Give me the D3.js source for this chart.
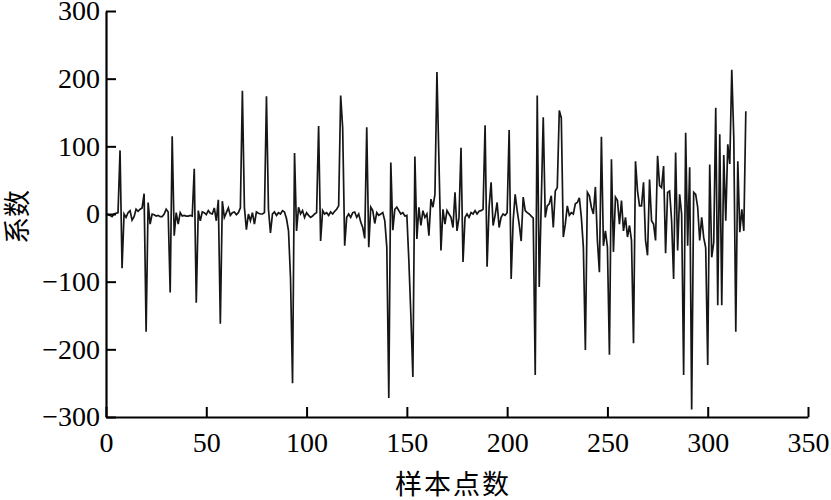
<!DOCTYPE html>
<html>
<head>
<meta charset="utf-8">
<script src="https://cdn.jsdelivr.net/npm/d3@7"></script>
<style>
  body { margin: 0; background: #fff; }
  svg { display: block; }
</style>
</head>
<body>
<svg></svg>
<script>
// coefficient value at each sample point (index = sample number)
var coef = [
  0, -1, -2, -4, 0, 1, 2, 94, -80, 0, -5, 2, 5, -9, -4, 7, 4, 7, 9, 30,
  -174, 17, -15, 0, -1, -3, -2, -4, -4, 0, 7, 3, -116, 115, -32, 2, -15, 2, -3, -2,
  -3, -3, -2, -3, 67, -131, 5, -10, 3, 2, -1, 5, 1, 0, 9, -10, 21, -162, 19, -5,
  2, 9, -2, 2, 3, -1, 2, 9, 182, 10, -23, 0, -10, 2, -15, 3, 1, 0, 0, 2,
  174, 7, -28, 0, 3, -2, 2, 0, 5, 3, -7, -25, -95, -250, 90, -25, 10, 0, 5, -5,
  2, -2, -5, -3, 0, 2, 130, -40, 5, 0, 2, -2, 3, 0, 4, 7, 12, 175, 127, -47,
  -5, 0, -5, 2, 3, -5, 0, -12, -20, -36, 128, -49, 10, 5, -14, 2, -2, 0, 2, -10,
  -49, -272, 76, -24, 7, 10, 5, 0, 2, -3, -2, -69, -150, -241, 85, -37, 10, -17, 5, -5,
  0, -32, 22, 10, 29, 210, 78, -54, 7, -15, 5, 0, -5, -20, 32, -25, -5, 98, -71, -5,
  0, -5, 2, 0, 5, 0, 4, 5, 7, 131, -78, 10, 47, -17, -2, 17, -20, -5, 0, -2,
  2, 124, -96, -10, 29, 5, -15, -40, 25, 5, 2, 0, -3, -6, -238, 175, -108, 15, 143, -5,
  12, 15, 27, -20, 34, 39, 153, 142, -34, -15, 12, -2, 2, 0, 15, 17, 24, -5, -49, -201,
  32, 27, 10, 0, 40, -39, -86, 114, -47, -25, -49, -208, 81, -56, 25, 20, -15, 20, -25, -5,
  -34, -17, -39, -191, 78, 34, 12, 12, 47, -39, -61, 51, -10, -15, -39, 86, 42, 39, 71, -58,
  32, 34, -10, -96, 91, -54, 29, 0, -238, 120, -47, 69, -289, 32, 29, 10, -39, -5, -35, -50,
  -223, 73, -64, -42, 157, -135, 118, -135, 87, -10, 103, 74, 213, 113, -174, 78, -27, 7, -25, 152
];
var xTicks = [0, 50, 100, 150, 200, 250, 300, 350];
var yTicks = [-300, -200, -100, 0, 100, 200, 300];
var xTitle = '样本点数';
var yTitle = '系数';

var width = 831, height = 500;
var plot = {left: 106, right: 808, top: 11, bottom: 417};

var svg = d3.select('svg')
  .attr('width', width)
  .attr('height', height);

var x = d3.scaleLinear().domain([0, 350]).range([plot.left, plot.right]);
var y = d3.scaleLinear().domain([-300, 300]).range([plot.bottom, plot.top]);

var serif = '"Liberation Serif", "Times New Roman", serif';

// data line
var line = d3.line()
  .x(function (d, i) { return x(i); })
  .y(function (d) { return y(d); });

svg.append('path')
  .datum(coef)
  .attr('d', line)
  .attr('fill', 'none')
  .attr('stroke', '#161616')
  .attr('stroke-width', 1.7);

// axes, ticks point inward
var xAxis = svg.append('g')
  .attr('transform', 'translate(0,' + plot.bottom + ')')
  .call(d3.axisBottom(x).tickValues(xTicks).tickSizeInner(-10).tickSizeOuter(0).tickPadding(15));

var yAxis = svg.append('g')
  .attr('transform', 'translate(' + plot.left + ',0)')
  .call(d3.axisLeft(y).tickValues(yTicks).tickSizeInner(-10).tickSizeOuter(0).tickPadding(6));

[xAxis, yAxis].forEach(function (g) {
  g.select('.domain').attr('stroke', '#000').attr('stroke-width', 2.2);
  g.selectAll('.tick line').attr('stroke', '#000').attr('stroke-width', 2);
  g.selectAll('.tick text')
    .attr('fill', '#000')
    .style('font-family', serif)
    .style('font-size', '28px');
});

// axis titles
svg.append('text')
  .attr('x', (plot.left + plot.right) / 2 - 4)
  .attr('y', 494)
  .attr('text-anchor', 'middle')
  .style('font-family', '"Noto Sans CJK SC", sans-serif')
  .style('font-size', '27px')
  .style('letter-spacing', '2px')
  .attr('fill', '#000')
  .text(xTitle);

svg.append('text')
  .attr('transform', 'translate(27,217) rotate(-90)')
  .attr('text-anchor', 'middle')
  .style('font-family', '"Noto Sans CJK SC", sans-serif')
  .style('font-size', '27px')
  .attr('fill', '#000')
  .text(yTitle);
</script>
</body>
</html>
